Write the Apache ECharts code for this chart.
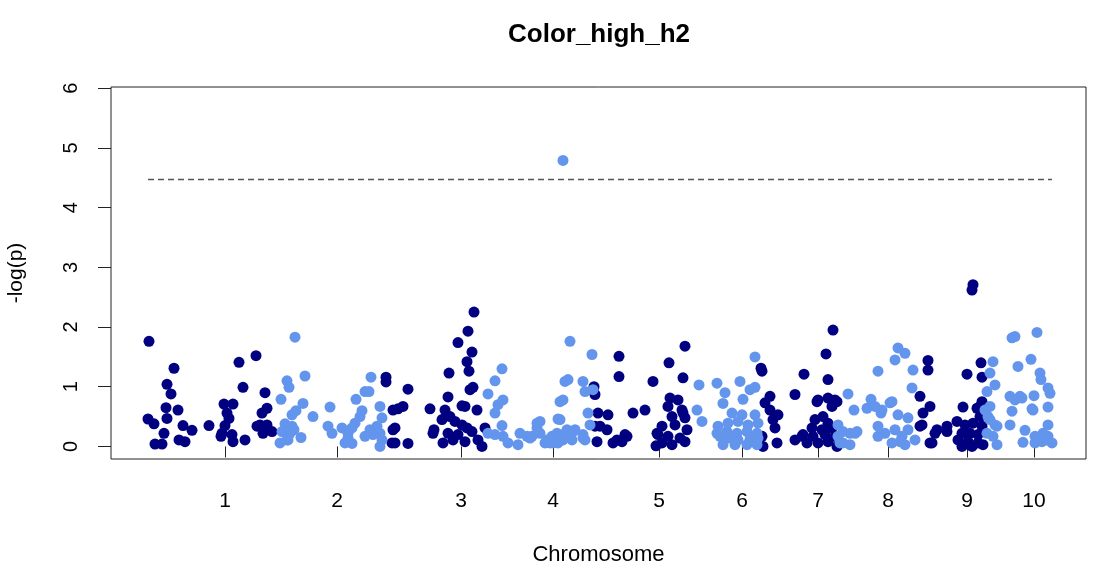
<!DOCTYPE html>
<html><head><meta charset="utf-8">
<script src="https://cdn.jsdelivr.net/npm/echarts@6/dist/echarts.min.js"></script>
<style>html,body{margin:0;padding:0;background:#fff}#c{width:1108px;height:577px}</style>
</head><body><div id="c"></div>
<script>
const chartTitle = 'Color_high_h2';
const xAxisTitle = 'Chromosome';
const yAxisTitle = '-log(p)';
const chromosomes = ['1','2','3','4','5','6','7','8','9','10'];
const chromCenters = [114,226,350,442,548,631,707,777,856,923];
const yTicks = [0,1,2,3,4,5,6];
const threshold = 4.48;

const navyPoints = [
[38,1.76],[63,1.31],[56,1.04],[60,0.88],[55,0.65],[67,0.61],[56,0.47],[37,0.46],[43,0.38],[53,0.22],[44,0.04],[51,0.04],[72,0.35],[81,0.27],[68,0.11],[74,0.08],[98,0.35],
[128,1.41],[145,1.52],[132,0.99],[154,0.90],[113,0.71],[122,0.71],[116,0.56],[118,0.47],[114,0.35],[111,0.22],[121,0.20],[122,0.08],[110,0.17],[134,0.11],[151,0.56],[149,0.36],[152,0.22],[146,0.34],
[156,0.64],[156,0.36],[161,0.25],
[275,1.16],[275,1.08],[282,0.61],[287,0.63],[284,0.31],[281,0.06],[297,0.96],[292,0.67],[282,0.28],[297,0.05],
[363,2.25],[357,1.93],[347,1.74],[361,1.58],[356,1.42],[358,1.26],[338,1.23],[362,0.99],[359,0.95],[337,0.83],[319,0.63],[334,0.61],[351,0.68],[354,0.67],[366,0.61],[331,0.45],[339,0.50],[344,0.42],[351,0.36],[356,0.31],[323,0.28],[337,0.22],[347,0.20],[361,0.25],[332,0.06],[342,0.11],[354,0.08],[367,0.11],[371,0.00],[374,0.31],[284,0.06],[322,0.22],
[483,1.00],[484,0.87],[487,0.56],[497,0.53],[489,0.34],[496,0.28],[486,0.08],[506,0.11],[502,0.06],[516,0.17],[511,0.08],[514,0.20],[484,0.34],[508,1.51],[508,1.17],[522,0.56],[534,0.61],[542,1.09],[546,0.22],[545,0.01],[558,1.40],[574,1.68],[572,1.15],[559,0.81],[567,0.78],[557,0.67],[571,0.61],[561,0.50],[574,0.48],[551,0.34],[564,0.36],[576,0.28],[547,0.20],[557,0.17],[569,0.14],[551,0.06],[561,0.03],[574,0.08],[572,0.56],
[650,1.31],[651,1.26],[659,0.84],[654,0.73],[659,0.61],[667,0.53],[662,0.45],[664,0.31],[651,0.17],[666,0.06],[652,0.00],
[684,0.87],[693,1.21],[715,1.55],[722,1.95],[717,1.12],[706,0.75],[726,0.75],[707,0.78],[717,0.81],[724,0.78],[721,0.67],
[704,0.45],[712,0.50],[717,0.39],[701,0.31],[711,0.28],[721,0.31],[691,0.17],[702,0.17],[714,0.20],[724,0.17],[684,0.11],[696,0.06],[707,0.06],[717,0.08],[726,0.00],[692,0.20],
[817,1.44],[817,1.28],[809,0.84],[819,0.67],[812,0.56],[809,0.34],[819,0.06],[826,0.28],[836,0.34],[824,0.22],[811,0.36],[821,0.06],[836,0.25],
[856,1.21],[870,1.40],[871,1.16],[871,0.75],[852,0.66],[862,2.71],[861,2.62],
[846,0.42],[854,0.36],[862,0.39],[869,0.50],[871,0.34],[851,0.22],[859,0.22],[867,0.20],[847,0.11],[857,0.08],[867,0.06],[872,0.03],[861,0.00],[851,0.00],[866,0.64],[869,0.67]
];

const bluePoints = [
[184,1.83],[194,1.18],[176,1.10],[178,0.99],[170,0.79],[192,0.72],[185,0.60],[181,0.53],[202,0.50],[219,0.66],[174,0.38],[181,0.34],[183,0.28],[171,0.25],[179,0.22],[169,0.06],[176,0.11],[190,0.15],[217,0.34],[221,0.22],[177,0.11],
[260,1.16],[254,0.92],[258,0.92],[245,0.79],[251,0.60],[249,0.50],[244,0.39],[241,0.31],[231,0.31],[237,0.22],[234,0.06],[241,0.05],[259,0.28],[262,0.20],[269,0.22],[271,0.11],[254,0.17],[269,0.67],[271,0.48],[237,0.14],[266,0.34],[269,0.00],
[391,1.30],[384,1.10],[377,0.88],[392,0.78],[387,0.70],[384,0.56],[391,0.35],[377,0.22],[384,0.20],[392,0.17],[397,0.06],[407,0.03],[409,0.22],[416,0.17],[419,0.14],[426,0.39],[429,0.22],[439,0.06],
[452,4.79],[459,1.76],[454,1.09],[457,1.12],[449,0.75],[452,0.78],[449,0.45],[446,0.22],[452,0.11],[456,0.28],[462,0.25],[442,0.06],[436,0.11],[481,1.54],[472,1.09],[474,0.92],[482,0.95],[477,0.56],[479,0.36],[472,0.14],
[429,0.42],[447,0.46],[464,0.28],[454,0.22],[441,0.17],[421,0.17],[434,0.06],[447,0.06],[461,0.11],[472,0.20],[474,0.11],[426,0.31],
[588,1.03],[586,0.61],[591,0.42],[606,1.06],[606,0.22],
[614,0.90],[629,1.09],[644,1.50],[612,0.72],[632,0.79],[639,0.95],[644,0.99],[621,0.56],[631,0.53],[644,0.53],[617,0.39],[627,0.42],[637,0.36],[647,0.39],[607,0.34],[616,0.25],[626,0.22],[636,0.25],[646,0.22],[617,0.14],[627,0.11],[639,0.12],[647,0.14],[612,0.03],[624,0.03],[636,0.03],[646,0.03],[609,0.17],
[727,0.36],[732,0.25],[739,0.22],[746,0.25],[732,0.06],[739,0.03],[727,0.17],[737,0.88],[743,0.61],
[767,1.26],[760,0.79],[756,0.64],[764,0.67],[771,0.61],[781,0.75],[787,0.53],[797,0.48],[801,0.98],[802,1.28],[784,1.45],[787,1.65],[794,1.56],
[767,0.34],[774,0.22],[784,0.28],[791,0.17],[797,0.28],[804,0.11],[767,0.17],[781,0.06],[794,0.03],[744,0.22],[729,0.06],[770,0.56],[779,0.73],[789,0.08],
[876,0.92],[879,1.23],[882,1.42],[884,1.03],[874,0.61],[879,0.45],[886,0.34],[882,0.17],[876,0.22],[886,0.03],[877,0.50],[879,0.67],[884,0.36],
[901,1.82],[904,1.84],[926,1.91],[920,1.46],[907,1.34],[929,1.23],[930,1.12],[937,0.98],[939,0.89],[899,0.84],[911,0.81],[904,0.78],[923,0.85],[901,0.59],[921,0.63],[937,0.66],[899,0.36],[914,0.27],[912,0.07],[924,0.17],[931,0.08],[937,0.36],[937,0.17],[941,0.06],[924,0.06],[926,0.14],[932,0.22],[936,0.11],[909,0.84],[922,0.61]
];

const allPos = navyPoints.concat(bluePoints).map(p => p[0]);
const minPos = Math.min(...allPos), maxPos = Math.max(...allPos);
const FONT = '"Liberation Sans", Arial, sans-serif';

const chart = echarts.init(document.getElementById('c'), null, {renderer: 'canvas'});
chart.setOption({
  animation: false,
  backgroundColor: '#fff',
  title: {
    text: chartTitle, left: 594, top: 17, textAlign: 'center',
    textStyle: {fontFamily: FONT, fontSize: 26, fontWeight: 'bold', color: '#000'}
  },
  grid: {left: 111, right: 22, top: 87, bottom: 118, show: true, borderColor: '#222', borderWidth: 1, containLabel: false, outerBoundsMode: 'none'},
  xAxis: {
    type: 'value', min: 0, max: 975,
    name: xAxisTitle, nameLocation: 'middle', nameGap: 85,
    nameTextStyle: {fontFamily: FONT, fontSize: 22, color: '#000'},
    axisLine: {show: false},
    splitLine: {show: false},
    axisTick: {show: true, length: 11, customValues: chromCenters, lineStyle: {color: '#222', width: 1}},
    axisLabel: {customValues: chromCenters, margin: 32, fontFamily: FONT, fontSize: 21, color: '#000',
      formatter: v => chromosomes[chromCenters.indexOf(v)]}
  },
  yAxis: {
    type: 'value', min: -0.21, max: 6.02,
    name: yAxisTitle, nameLocation: 'middle', nameGap: 84, nameRotate: 90,
    nameTextStyle: {fontFamily: FONT, fontSize: 21, color: '#000'},
    axisLine: {show: false},
    splitLine: {show: false},
    axisTick: {show: true, length: 13, customValues: yTicks, lineStyle: {color: '#222', width: 1}},
    axisLabel: {customValues: yTicks, rotate: 90, margin: 30, fontFamily: FONT, fontSize: 20, color: '#000'}
  },
  series: [
    {
      type: 'scatter', name: 'navy', data: navyPoints, symbol: 'circle', symbolSize: 11,
      itemStyle: {color: '#000080', opacity: 1},
      markLine: {
        silent: true, symbol: ['none','none'], label: {show: false},
        lineStyle: {type: [6,4], color: '#555', width: 1.3},
        data: [[{coord: [minPos, threshold]}, {coord: [maxPos, threshold]}]]
      }
    },
    {
      type: 'scatter', name: 'blue', data: bluePoints, symbol: 'circle', symbolSize: 11,
      itemStyle: {color: '#6495ED', opacity: 1}
    }
  ]
});
</script></body></html>
